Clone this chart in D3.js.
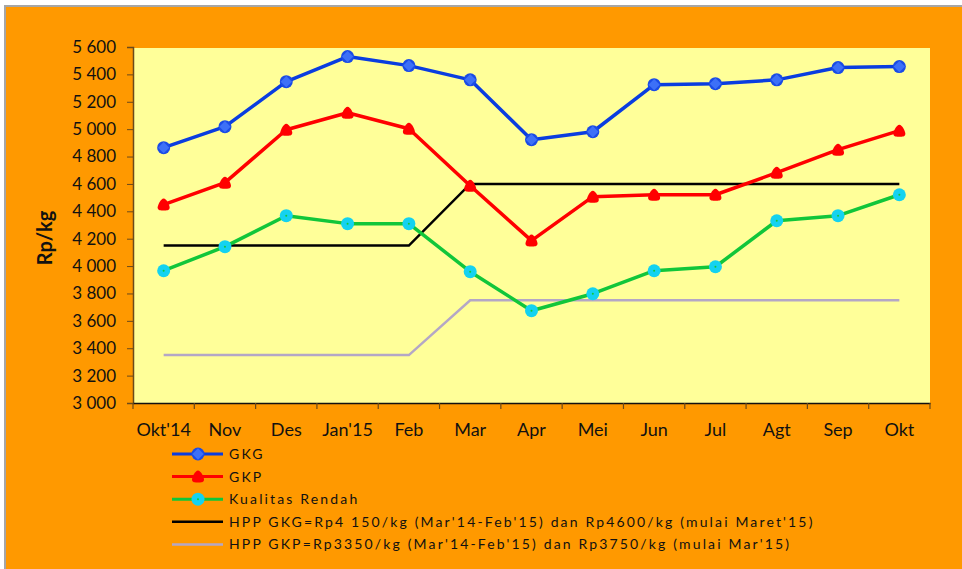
<!DOCTYPE html>
<html>
<head>
<meta charset="utf-8">
<script src="https://cdn.jsdelivr.net/npm/d3@7"></script>
<style>
  body { margin: 0; background: #fff; }
  svg { display: block; }
</style>
</head>
<body>
<svg id="chart" width="962" height="569"></svg>
<script>
const months = ["Okt'14", "Nov", "Des", "Jan'15", "Feb", "Mar", "Apr", "Mei", "Jun", "Jul", "Agt", "Sep", "Okt"];
const gkg = [4865, 5018, 5347, 5530, 5464, 5360, 4923, 4981, 5325, 5332, 5360, 5450, 5457];
const gkp = [4449, 4609, 4996, 5120, 5003, 4587, 4186, 4507, 4521, 4521, 4682, 4850, 4989];
const rendah = [3966, 4142, 4368, 4310, 4310, 3959, 3674, 3798, 3966, 3995, 4331, 4368, 4521];
const hppGkg = [4150, 4150, 4150, 4150, 4150, 4600, 4600, 4600, 4600, 4600, 4600, 4600, 4600];
const hppGkp = [3350, 3350, 3350, 3350, 3350, 3750, 3750, 3750, 3750, 3750, 3750, 3750, 3750];
const yTicks = d3.range(3000, 5601, 200);

const legendLabels = [
  "GKG",
  "GKP",
  "Kualitas Rendah",
  "HPP GKG=Rp4 150/kg (Mar'14-Feb'15) dan Rp4600/kg (mulai Maret'15)",
  "HPP GKP=Rp3350/kg (Mar'14-Feb'15) dan Rp3750/kg (mulai Mar'15)"
];

const svg = d3.select('#chart');
const font = 'Lato, "Open Sans", sans-serif';

// background frame
svg.append('rect').attr('x', 0).attr('y', 0).attr('width', 962).attr('height', 569).attr('fill', '#fff');
svg.append('rect').attr('x', 5).attr('y', 6).attr('width', 962).attr('height', 569)
  .attr('fill', '#ff9900').attr('stroke', '#a6a6a6').attr('stroke-width', 2);

const plot = { left: 133, right: 930, top: 47, bottom: 403 };

const x = d3.scaleBand().domain(months).range([plot.left, plot.right]);
const y = d3.scaleLinear().domain([3000, 5600]).range([plot.bottom, plot.top]);

svg.append('rect')
  .attr('x', plot.left).attr('y', plot.top + 1)
  .attr('width', plot.right - plot.left).attr('height', plot.bottom - plot.top - 1)
  .attr('fill', '#ffff99');

// axes
const yAxis = svg.append('g')
  .attr('transform', `translate(${plot.left},0)`)
  .call(d3.axisLeft(y).tickValues(yTicks).tickSize(6).tickPadding(11)
    .tickFormat(d => d3.format(',')(d).replace(',', ' ')));
yAxis.select('.domain').attr('stroke', '#6b4a1a').attr('stroke-width', 1.5);
yAxis.selectAll('.tick line').attr('stroke', '#6b4a1a');
yAxis.selectAll('text').attr('font-family', font).attr('font-size', 17).attr('fill', '#111');

const xAxis = svg.append('g')
  .attr('transform', `translate(0,${plot.bottom})`)
  .call(d3.axisBottom(x).tickSize(0).tickPadding(20));
xAxis.select('.domain').attr('stroke', '#111').attr('stroke-width', 1.5);
xAxis.selectAll('text').attr('font-family', font).attr('font-size', 18).attr('fill', '#111');
// tick marks between categories
const edges = months.map(m => x(m)).concat([plot.right]);
xAxis.selectAll('.edge').data(edges).enter().append('line')
  .attr('class', 'edge')
  .attr('x1', d => d).attr('x2', d => d)
  .attr('y1', 0).attr('y2', 6)
  .attr('stroke', '#6b4a1a').attr('stroke-width', 1.2);

svg.append('text')
  .attr('transform', `translate(52,238) rotate(-90)`)
  .attr('text-anchor', 'middle')
  .attr('font-family', font).attr('font-size', 20).attr('font-weight', 'bold')
  .attr('fill', '#111')
  .text('Rp/kg');

const cx = m => x(m) + x.bandwidth() / 2;
const line = d3.line().x(d => cx(d.m)).y(d => y(d.v));
const pts = arr => arr.map((v, i) => ({ m: months[i], v }));

// reference lines
svg.append('path').datum(pts(hppGkp)).attr('d', line)
  .attr('fill', 'none').attr('stroke', '#b4a7c6').attr('stroke-width', 2.5);
svg.append('path').datum(pts(hppGkg)).attr('d', line)
  .attr('fill', 'none').attr('stroke', '#000').attr('stroke-width', 2.5);

const blue = '#0a3de0', red = '#ff0000', green = '#11c63a', cyan = '#14d2f0';

function drawSeries(data, color) {
  svg.append('path').datum(pts(data)).attr('d', line)
    .attr('fill', 'none').attr('stroke', color).attr('stroke-width', 3.5)
    .attr('stroke-linejoin', 'round');
}

drawSeries(rendah, green);
drawSeries(gkp, red);
drawSeries(gkg, blue);

function gkgMarker(g, px, py) {
  g.append('circle').attr('cx', px).attr('cy', py).attr('r', 6.5).attr('fill', '#1a4be6');
  g.append('rect').attr('x', px - 4).attr('y', py - 4).attr('width', 8).attr('height', 8)
    .attr('transform', `rotate(45 ${px} ${py})`).attr('fill', '#3d70f7');
}
function gkpMarker(g, px, py) {
  g.append('path')
    .attr('d', `M${px},${py - 6} C${px + 3},${py - 6} ${px + 6},${py + 1} ${px + 6},${py + 3} C${px + 6},${py + 6} ${px + 3},${py + 6} ${px},${py + 6} C${px - 3},${py + 6} ${px - 6},${py + 6} ${px - 6},${py + 3} C${px - 6},${py + 1} ${px - 3},${py - 6} ${px},${py - 6}Z`)
    .attr('fill', red);
}
function rendahMarker(g, px, py) {
  g.append('circle').attr('cx', px).attr('cy', py).attr('r', 6.5).attr('fill', cyan);
  g.append('circle').attr('cx', px).attr('cy', py).attr('r', 1).attr('fill', green);
}

const mk = svg.append('g');
pts(rendah).forEach(d => rendahMarker(mk, cx(d.m), y(d.v)));
pts(gkp).forEach(d => gkpMarker(mk, cx(d.m), y(d.v)));
pts(gkg).forEach(d => gkgMarker(mk, cx(d.m), y(d.v)));

// legend
const legend = svg.append('g');
const legColors = [blue, red, green, '#000', '#b4a7c6'];
const legMarkers = [gkgMarker, gkpMarker, rendahMarker, null, null];
legendLabels.forEach((label, i) => {
  const ly = 454 + i * 22.6;
  legend.append('line').attr('x1', 172).attr('x2', 223).attr('y1', ly).attr('y2', ly)
    .attr('stroke', legColors[i]).attr('stroke-width', i < 3 ? 3 : 2.5);
  if (legMarkers[i]) legMarkers[i](legend, 198, ly);
  legend.append('text')
    .attr('x', 229).attr('y', ly + 5)
    .attr('font-family', font).attr('font-size', 14)
    .attr('letter-spacing', 2.15)
    .attr('fill', '#111')
    .text(label);
});
</script>
</body>
</html>
